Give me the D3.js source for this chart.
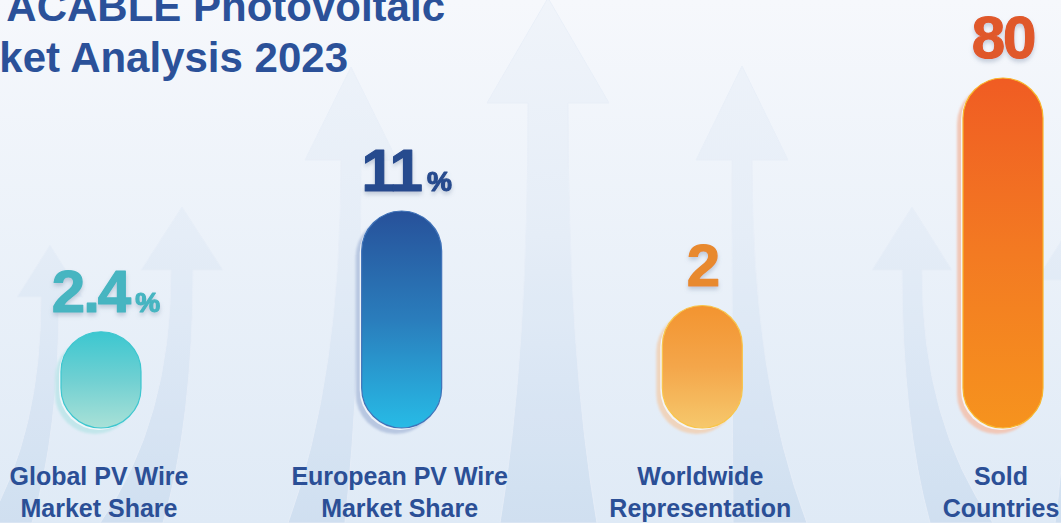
<!DOCTYPE html>
<html>
<head>
<meta charset="utf-8">
<script src="https://cdn.jsdelivr.net/npm/d3@7"></script>
<style>
  html, body { margin: 0; padding: 0; background: #f3f7fc; }
  svg { display: block; }
  text { font-family: "Liberation Sans", Arial, sans-serif; font-weight: bold; }
</style>
</head>
<body>
<div id="chart"></div>
<script>
// data
var categories = ["Global PV Wire|Market Share", "European PV Wire|Market Share", "Worldwide|Representation", "Sold|Countries"];
var values = [2.4, 11, 2, 80];
var units = ["%", "%", "", ""];
// bar height as drawn, relative to the tallest one (bars are not to scale)
var barLevels = [27.5, 62, 35, 100];

var width = 1061, height = 523;

var svg = d3.select("#chart").append("svg")
    .attr("width", width)
    .attr("height", height);

var defs = svg.append("defs");

// background gradient
var bg = defs.append("linearGradient").attr("id", "bg")
    .attr("x1", 0).attr("y1", 0).attr("x2", 0).attr("y2", 1);
bg.append("stop").attr("offset", "0%").attr("stop-color", "#f6f8fc");
bg.append("stop").attr("offset", "100%").attr("stop-color", "#dfeaf6");

var ag = defs.append("linearGradient").attr("id", "arrowFill")
    .attr("gradientUnits", "userSpaceOnUse")
    .attr("x1", 0).attr("y1", 0).attr("x2", 0).attr("y2", height);
ag.append("stop").attr("offset", "0%").attr("stop-color", "#eef3fa");
ag.append("stop").attr("offset", "45%").attr("stop-color", "#e3ecf7");
ag.append("stop").attr("offset", "100%").attr("stop-color", "#cbdcef");

svg.append("rect").attr("width", width).attr("height", height).attr("fill", "url(#bg)");

// decorative arrows in the background
var bgArrows = [
    {tx: 548, ty: -2, hw: 61, hh: 105, sw: 20, bl: 500, br: 597},
    {tx: 742, ty: 66, hw: 46, hh: 94, sw: 10, bl: 733, br: 807},
    {tx: 351, ty: 67, hw: 46, hh: 93, sw: 10, bl: 288, br: 345},
    {tx: 182, ty: 207, hw: 41, hh: 63, sw: 11, bl: 100, br: 163},
    {tx: 50, ty: 245, hw: 33, hh: 52, sw: 9, bl: -12, br: 32},
    {tx: 912, ty: 207, hw: 40, hh: 63, sw: 10, bl: 930, br: 993},
    {tx: 1078, ty: 215, hw: 42, hh: 65, sw: 10, bl: 1055, br: 1110}
];

function arrowPath(a) {
    var by = a.ty + a.hh;
    var p = d3.path();
    p.moveTo(a.tx, a.ty);
    p.lineTo(a.tx + a.hw, by);
    p.lineTo(a.tx + a.sw, by);
    p.quadraticCurveTo(a.tx + a.sw, by + (height - by) * 0.6, a.br, height);
    p.lineTo(a.bl, height);
    p.quadraticCurveTo(a.tx - a.sw, by + (height - by) * 0.6, a.tx - a.sw, by);
    p.lineTo(a.tx - a.hw, by);
    p.closePath();
    return p.toString();
}

svg.append("g").selectAll("path")
    .data(bgArrows)
    .enter()
    .append("path")
    .attr("d", arrowPath)
    .attr("fill", "url(#arrowFill)")
    .attr("stroke", "#e6edf7")
    .attr("stroke-width", 1)
    .attr("stroke-linejoin", "round")
    .attr("opacity", 0.75);

// title (cropped on the left like the original)
var title = svg.append("text")
    .attr("text-anchor", "end")
    .style("font-size", "42px")
    .attr("fill", "#2b5199");
title.append("tspan").attr("x", 445).attr("y", 21).text("ACABLE Photovoltaic");
title.append("tspan").attr("x", 348).attr("y", 72).text("Market Analysis 2023");

// colours
var barTop = ["#3cc7d0", "#27519a", "#f39430", "#f05c23"];
var barMid = ["#70d0d2", "#2a7dbc", "#f4a64a", "#f37a22"];
var barBottom = ["#a9e1d7", "#27bbe6", "#f6c86c", "#f6931e"];
var barEdge = ["#3dc6cf", "#3f72b8", "#f8c54a", "#f8b52c"];
var shadowCol = ["#c2e6eb", "#b8c7e1", "#efd4bd", "#f1c7b7"];
var valueCol = ["#46b5c1", "#264b8e", "#e8892f", "#e0592a"];

categories.forEach(function(c, i) {
    var g = defs.append("linearGradient").attr("id", "bar" + i)
        .attr("x1", 0).attr("y1", 0).attr("x2", 0).attr("y2", 1);
    g.append("stop").attr("offset", "0%").attr("stop-color", barTop[i]);
    g.append("stop").attr("offset", "50%").attr("stop-color", barMid[i]);
    g.append("stop").attr("offset", "100%").attr("stop-color", barBottom[i]);
});

var glow = defs.append("filter").attr("id", "textShadow")
    .attr("x", "-20%").attr("y", "-20%").attr("width", "140%").attr("height", "160%");
glow.append("feDropShadow").attr("dx", 0).attr("dy", 3).attr("stdDeviation", 2)
    .attr("flood-color", "#6a7f9c").attr("flood-opacity", 0.35);

var soft = defs.append("filter").attr("id", "soft");
soft.append("feGaussianBlur").attr("stdDeviation", 0.8);

// scales
var x = d3.scalePoint()
    .domain(categories)
    .range([101, 1003]);

var y = d3.scaleLinear()
    .domain([0, 100])
    .range([428, 78]);

var barW = 80;

var bars = svg.append("g").selectAll("g")
    .data(categories)
    .enter()
    .append("g");

// shadow pill behind each bar
bars.append("rect")
    .attr("x", function(d) { return x(d) - barW / 2 - 6; })
    .attr("y", function(d, i) { return y(barLevels[i]) + 6; })
    .attr("width", barW)
    .attr("height", function(d, i) { return y(0) - y(barLevels[i]); })
    .attr("rx", barW / 2)
    .attr("fill", function(d, i) { return shadowCol[i]; })
    .attr("filter", "url(#soft)");

// white seam
bars.append("rect")
    .attr("x", function(d) { return x(d) - barW / 2 - 2; })
    .attr("y", function(d, i) { return y(barLevels[i]) + 2; })
    .attr("width", barW)
    .attr("height", function(d, i) { return y(0) - y(barLevels[i]); })
    .attr("rx", barW / 2)
    .attr("fill", "#f4f7fb")
    .attr("opacity", 0.9);

// bar
bars.append("rect")
    .attr("x", function(d) { return x(d) - barW / 2; })
    .attr("y", function(d, i) { return y(barLevels[i]); })
    .attr("width", barW)
    .attr("height", function(d, i) { return y(0) - y(barLevels[i]); })
    .attr("rx", barW / 2)
    .attr("fill", function(d, i) { return "url(#bar" + i + ")"; })
    .attr("stroke", function(d, i) { return barEdge[i]; })
    .attr("stroke-width", 1.2);

// value labels
var vt = bars.append("text")
    .attr("x", function(d, i) { return x(d) + (units[i] ? 5 : 0); })
    .attr("y", function(d, i) { return y(barLevels[i]) - 20; })
    .attr("text-anchor", "middle")
    .attr("fill", function(d, i) { return valueCol[i]; })
    .attr("stroke", function(d, i) { return valueCol[i]; })
    .attr("stroke-width", 1.2)
    .attr("stroke-linejoin", "round")
    .attr("filter", "url(#textShadow)");

vt.append("tspan")
    .style("font-size", "60px")
    .style("letter-spacing", "-2px")
    .text(function(d, i) { return values[i]; });

vt.append("tspan")
    .attr("dx", 6)
    .style("font-size", "28px")
    .text(function(d, i) { return units[i]; });

// category labels
var lab = bars.append("text")
    .attr("text-anchor", "middle")
    .attr("fill", "#2b4f96")
    .style("font-size", "25px");

lab.selectAll("tspan")
    .data(function(d) { return d.split("|").map(function(t) { return {t: t, c: d}; }); })
    .enter()
    .append("tspan")
    .attr("x", function(d) { return x(d.c) - 2; })
    .attr("y", function(d, j) { return 485 + j * 32; })
    .text(function(d) { return d.t; });
</script>
</body>
</html>
